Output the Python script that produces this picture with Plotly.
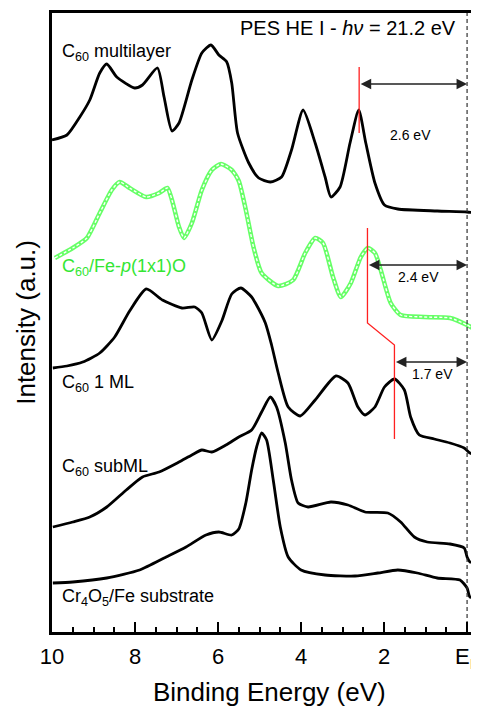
import plotly.graph_objects as go

# Binding energy (eV) and intensity (a.u.)
E_multi = [10.00, 9.64, 9.33, 9.09, 8.85, 8.68, 8.44, 8.01, 7.82, 7.46, 7.30, 7.11, 6.94, 6.63, 6.39,
           6.17, 5.98, 5.79, 5.67, 5.53, 5.26, 5.02, 4.74, 4.47, 4.23, 3.95, 3.66, 3.42, 3.28, 3.06,
           2.82, 2.61, 2.44, 2.22, 1.99, 1.67, 0.72, 0.00, -0.21]
I_multi = [492, 497, 515, 532, 559, 568, 555, 544, 547, 564, 535, 501, 509, 552, 579,
           587, 577, 570, 549, 499, 469, 454, 450, 455, 482, 522, 489, 455, 435, 445,
           489, 522, 489, 449, 427, 423, 421, 420, 419]

E_oxide = [9.93, 9.50, 9.16, 8.85, 8.56, 8.37, 8.13, 7.73, 7.42, 7.22, 7.11, 6.94, 6.82, 6.63, 6.39,
           6.15, 5.93, 5.67, 5.50, 5.33, 5.14, 4.95, 4.55, 4.19, 3.90, 3.66, 3.47, 3.23, 3.04, 2.80,
           2.56, 2.39, 2.22, 2.08, 1.84, 1.60, 1.03, 0.41, 0.00, -0.21]
I_oxide = [374, 384, 394, 419, 442, 450, 444, 435, 439, 444, 432, 405, 394, 409, 442,
           462, 468, 462, 451, 422, 384, 359, 346, 352, 379, 394, 389, 355, 335, 349,
           375, 384, 379, 362, 329, 317, 315, 314, 307, 302]

E_1ml = [9.98, 9.64, 9.26, 8.85, 8.49, 8.13, 7.73, 7.34, 6.87, 6.56, 6.39, 6.15, 5.91, 5.67, 5.45,
         5.19, 5.10, 4.86, 4.71, 4.55, 4.31, 4.02, 3.66, 3.16, 2.87, 2.63, 2.46, 2.22, 1.99, 1.75,
         1.51, 1.36, 1.15, 0.79, 0.41, 0.07, -0.07, -0.22]
I_1ml = [264, 266, 270, 279, 295, 321, 343, 332, 324, 325, 319, 292, 311, 338, 344,
         335, 329, 309, 287, 259, 225, 216, 232, 256, 249, 225, 217, 225, 245, 253,
         242, 215, 197, 193, 189, 184, 179, 177]

E_sub = [9.98, 9.50, 9.09, 8.68, 8.21, 7.82, 7.42, 6.94, 6.63, 6.39, 6.15, 5.81, 5.50, 5.19, 4.95,
         4.74, 4.59, 4.38, 4.23, 4.07, 3.83, 3.28, 2.87, 2.46, 1.91, 1.60, 1.27, 0.96, 0.41, 0.07,
         0.00, -0.07, -0.22]
I_sub = [105, 110, 115, 125, 142, 155, 160, 170, 177, 182, 180, 187, 195, 202, 220,
         235, 225, 189, 152, 129, 125, 130, 127, 120, 119, 110, 95, 90, 88, 84,
         75, 70, 70]

E_subst = [9.98, 9.50, 8.68, 7.89, 7.25, 6.77, 6.29, 5.98, 5.67, 5.50, 5.33, 5.19, 5.07, 4.95, 4.83,
           4.67, 4.50, 4.31, 4.00, 3.42, 2.70, 2.15, 1.67, 1.20, 0.72, 0.17, 0.00, -0.07, -0.22]
I_subst = [49, 50, 54, 62, 75, 85, 97, 100, 97, 103, 129, 162, 185, 199, 192,
           152, 105, 75, 62, 57, 56, 59, 62, 59, 54, 52, 44, 35, 35]

labels = ["C<sub>60</sub> multilayer", "C<sub>60</sub>/Fe-<i>p</i>(1x1)O", "C<sub>60</sub> 1 ML",
          "C<sub>60</sub> subML", "Cr<sub>4</sub>O<sub>5</sub>/Fe substrate"]
label_E = [9.81, 9.81, 9.81, 9.81, 9.81]
label_I = [580, 365, 249, 165, 35]

tick_vals = [10, 8, 6, 4, 2, 0]
tick_text = ["10", "8", "6", "4", "2", "E<sub>F</sub>"]

# gap markers: red guide lines and arrows
gap_vals = ["2.6 eV", "2.4 eV", "1.7 eV"]
gap_E = [2.6, 2.4, 1.75]
gap_arrow_I = [548, 367, 270]
gap_text_E = [1.36, 1.17, 0.84]
gap_text_I = [497, 355, 258]
red1_E = [2.6, 2.6]
red1_I = [565, 499]
red2_E = [2.4, 2.4, 1.75, 1.75]
red2_I = [404, 309, 287, 193]

FONT = "Liberation Sans, Arial, sans-serif"
GREEN = "#33e633"

fig = go.Figure()
line_kw = dict(shape="spline", smoothing=0.6)
for E, I in [(E_multi, I_multi), (E_1ml, I_1ml), (E_sub, I_sub), (E_subst, I_subst)]:
    fig.add_trace(go.Scatter(x=E, y=I, mode="lines",
                             line=dict(color="black", width=2.8, **line_kw), hoverinfo="skip"))
fig.add_trace(go.Scatter(x=E_oxide, y=I_oxide, mode="lines",
                         line=dict(color="#66ff66", width=4.5, **line_kw), hoverinfo="skip"))
fig.add_trace(go.Scatter(x=E_oxide, y=I_oxide, mode="lines",
                         line=dict(color="white", width=1.4, dash="3px,2px", **line_kw), hoverinfo="skip"))

fig.add_trace(go.Scatter(x=red1_E, y=red1_I, mode="lines", line=dict(color="#ff2020", width=1.3),
                         hoverinfo="skip"))
fig.add_trace(go.Scatter(x=red2_E, y=red2_I, mode="lines", line=dict(color="#ff2020", width=1.3),
                         hoverinfo="skip"))
# E_F dashed line
fig.add_trace(go.Scatter(x=[0, 0], y=[0, 619], mode="lines",
                         line=dict(color="#333333", width=1.2, dash="4px,3px"), hoverinfo="skip"))

for t, e, i in zip(labels, label_E, label_I):
    fig.add_annotation(x=e, y=i, text=t, showarrow=False, xanchor="left", yanchor="middle",
                       font=dict(family=FONT, size=18, color=GREEN if "Fe-" in t else "black"))

for txt, e, ai, te, ti in zip(gap_vals, gap_E, gap_arrow_I, gap_text_E, gap_text_I):
    fig.add_annotation(x=0, y=ai, ax=e, ay=ai, xref="x", yref="y", axref="x", ayref="y",
                       text="", showarrow=True, arrowhead=2, arrowside="end+start",
                       arrowsize=1.4, arrowwidth=1.5, arrowcolor="#222222",
                       startarrowhead=2, startarrowsize=1.4, standoff=0, startstandoff=0)
    fig.add_annotation(x=te, y=ti, text=txt, showarrow=False, xanchor="center", yanchor="middle",
                       font=dict(family=FONT, size=14, color="black"))

fig.add_annotation(x=0.958, y=0.976, xref="paper", yref="paper", xanchor="right", yanchor="middle",
                   text="PES HE I - <i>h\u03bd</i> = 21.2 eV", showarrow=False,
                   font=dict(family=FONT, size=20, color="black"))
fig.add_annotation(x=-0.063, y=0.5, xref="paper", yref="paper", textangle=-90,
                   text="Intensity (a.u.)", showarrow=False, xanchor="center", yanchor="middle",
                   font=dict(family=FONT, size=26, color="black"))
fig.add_annotation(x=0.513, y=-0.097, xref="paper", yref="paper",
                   text="Binding Energy (eV)", showarrow=False, xanchor="center", yanchor="middle",
                   font=dict(family=FONT, size=26, color="black"))

# page body has an 8px margin, so the figure is sized to fit inside the window
fig.update_layout(
    width=471, height=698, margin=dict(l=44, r=0, t=5, b=74),
    plot_bgcolor="white", paper_bgcolor="white", showlegend=False,
    xaxis=dict(range=[10, -0.215], showgrid=False, zeroline=False, showline=True, linecolor="black",
               linewidth=3, mirror=True, ticks="inside", ticklen=10, tickwidth=2, tickcolor="black",
               tickvals=tick_vals, ticktext=tick_text, ticklabeloverflow="allow",
               ticklabelstandoff=3,
               tickfont=dict(family=FONT, size=22, color="black"),
               minor=dict(ticks="inside", ticklen=5, tickwidth=2, dtick=0.5, tick0=0, tickcolor="black")),
    yaxis=dict(range=[0, 619], showgrid=False, zeroline=False, showline=True, linecolor="black",
               linewidth=3, showticklabels=False, ticks=""),
)

fig.write_html("out.html")
